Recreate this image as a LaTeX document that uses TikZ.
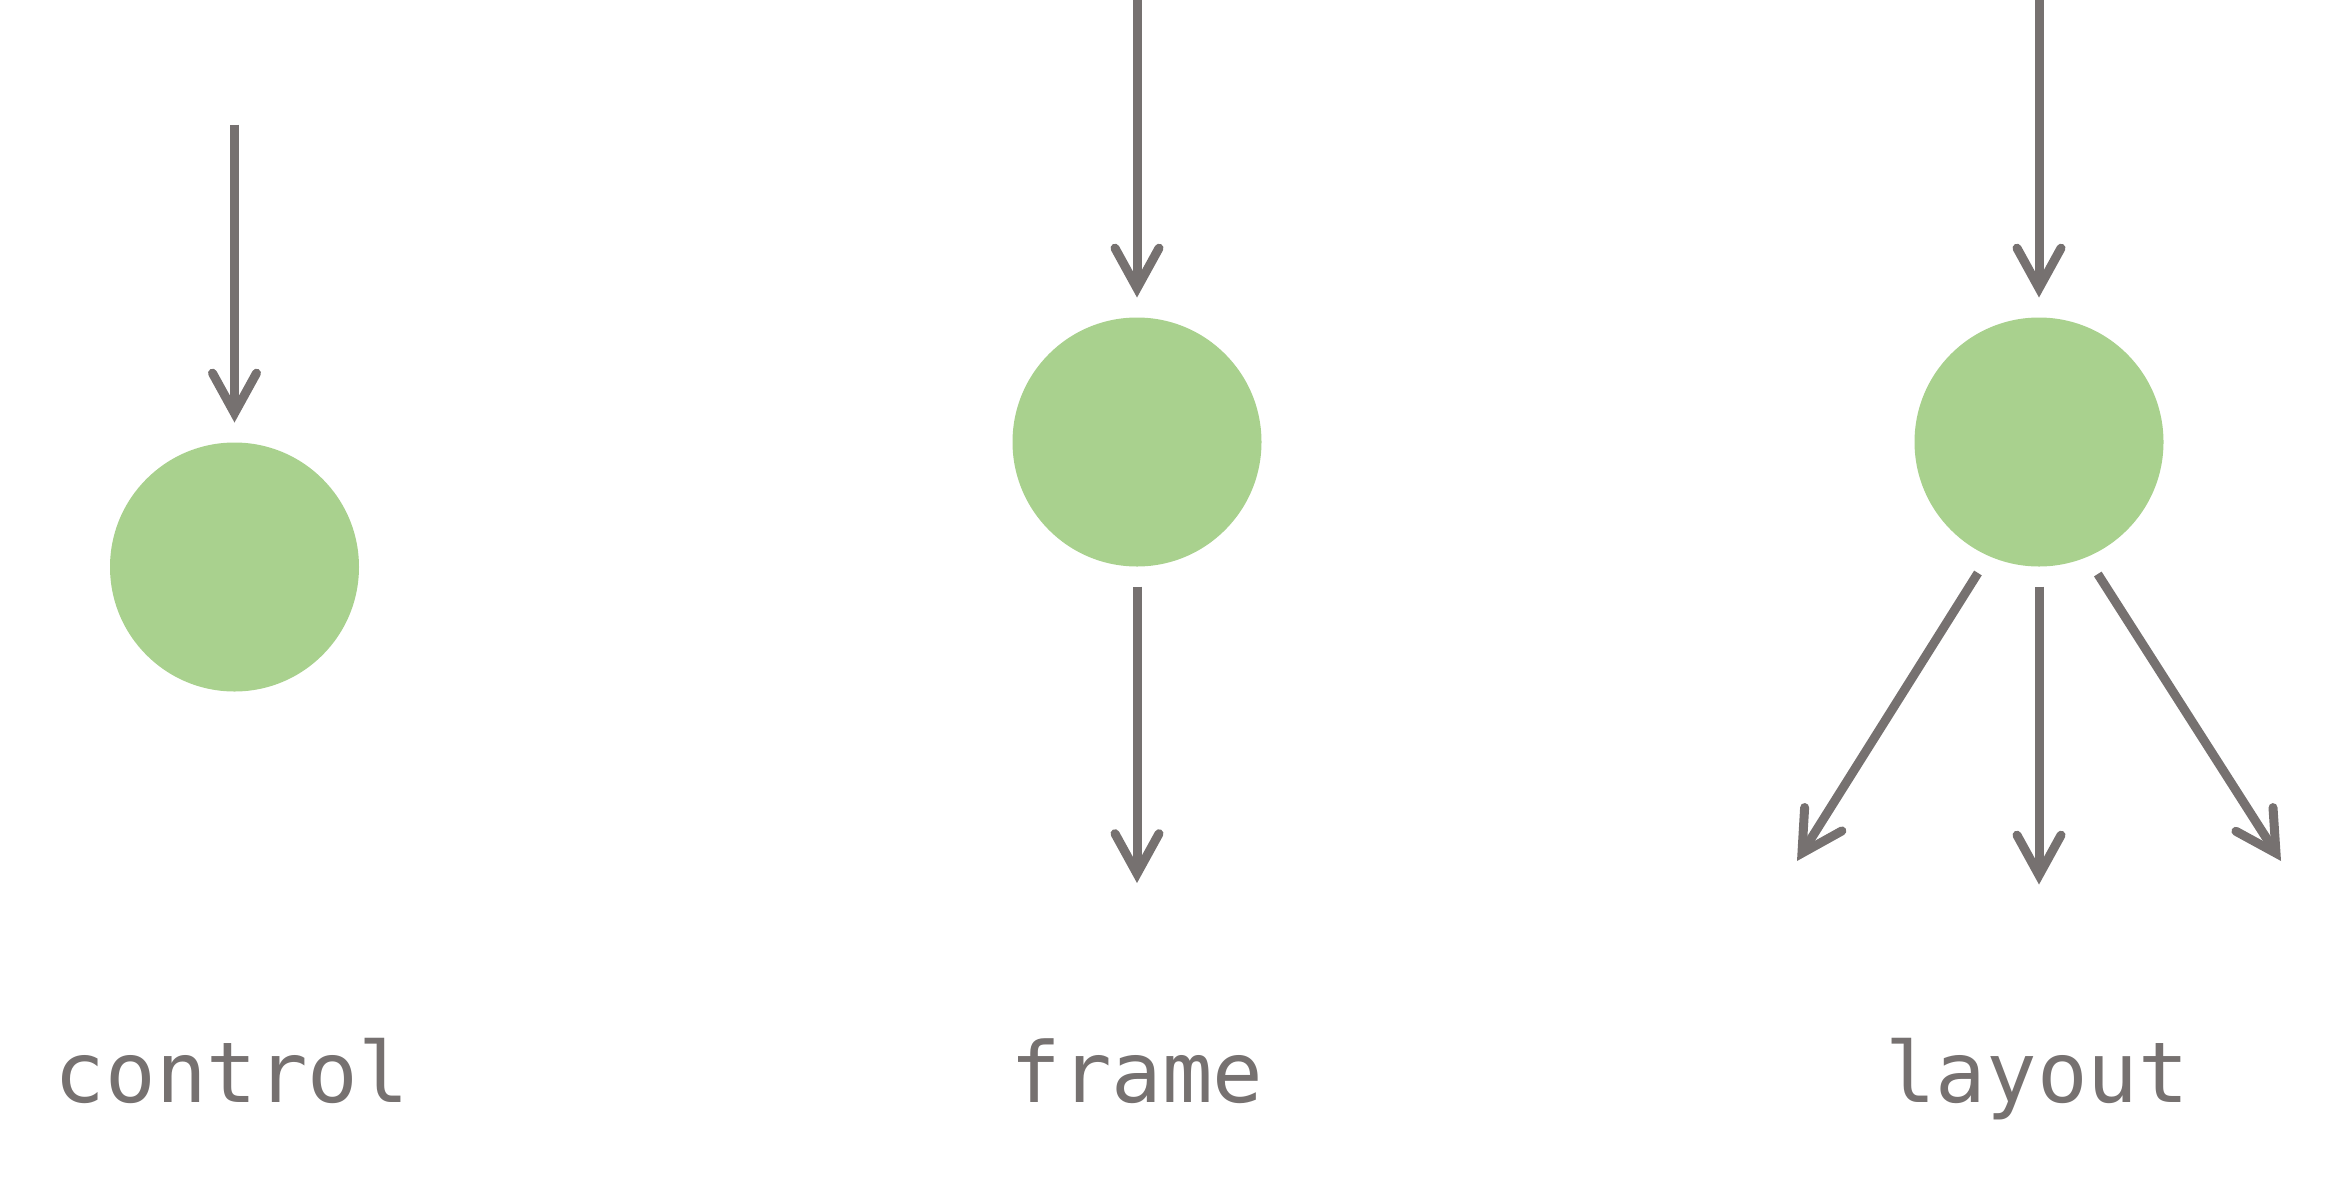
\documentclass[tikz,border=0pt]{standalone}
\usepackage{fontspec}
\newfontfamily\monofont{DejaVu Sans Mono}
\usetikzlibrary{arrows.meta}
\definecolor{linegray}{HTML}{767170}
\definecolor{leafgreen}{HTML}{A9D18E}
\begin{document}
\begin{tikzpicture}[x=1pt,y=-1pt,
  ball/.style={circle,fill=leafgreen,draw=none,minimum size=249pt,inner sep=0pt,outer sep=20pt},
  arr/.style={draw=linegray,line width=9pt,
    -{Straight Barb[length=40pt,width=44pt,line cap=round,line join=miter]}},
  lbl/.style={text=linegray,font=\monofont\fontsize{84}{100}\selectfont,anchor=base,inner sep=0pt}]
\useasboundingbox (0,0) rectangle (2327,1184);
% nodes
\node[ball] (c1) at (234.5,567) {};
\node[ball] (c2) at (1137,442) {};
\node[ball] (c3) at (2039,442) {};
% free ends
\coordinate (t1) at (234.5,124.5);
\coordinate (t2) at (1137,0);
\coordinate (t3) at (2039,0);
\coordinate (b2) at (1137,883);
\coordinate (b3) at (2039,884.5);
\coordinate (bl) at (1797,861);
\coordinate (br) at (2281,861);
% connectors
\draw[arr] (t1) -- (c1);
\draw[arr] (t2) -- (c2);
\draw[arr] (c2) -- (b2);
\draw[arr] (t3) -- (c3);
\draw[arr] (c3) -- (b3);
\draw[arr] (c3.245.5) -- (bl);
\draw[arr] (c3.294.5) -- (br);
% labels
\node[lbl] (l1) at (232,1102.6) {control};
\node[lbl] (l2) at (1137,1102.6) {frame};
\node[lbl] (l3) at (2037,1102.6) {layout};
\end{tikzpicture}
\end{document}
